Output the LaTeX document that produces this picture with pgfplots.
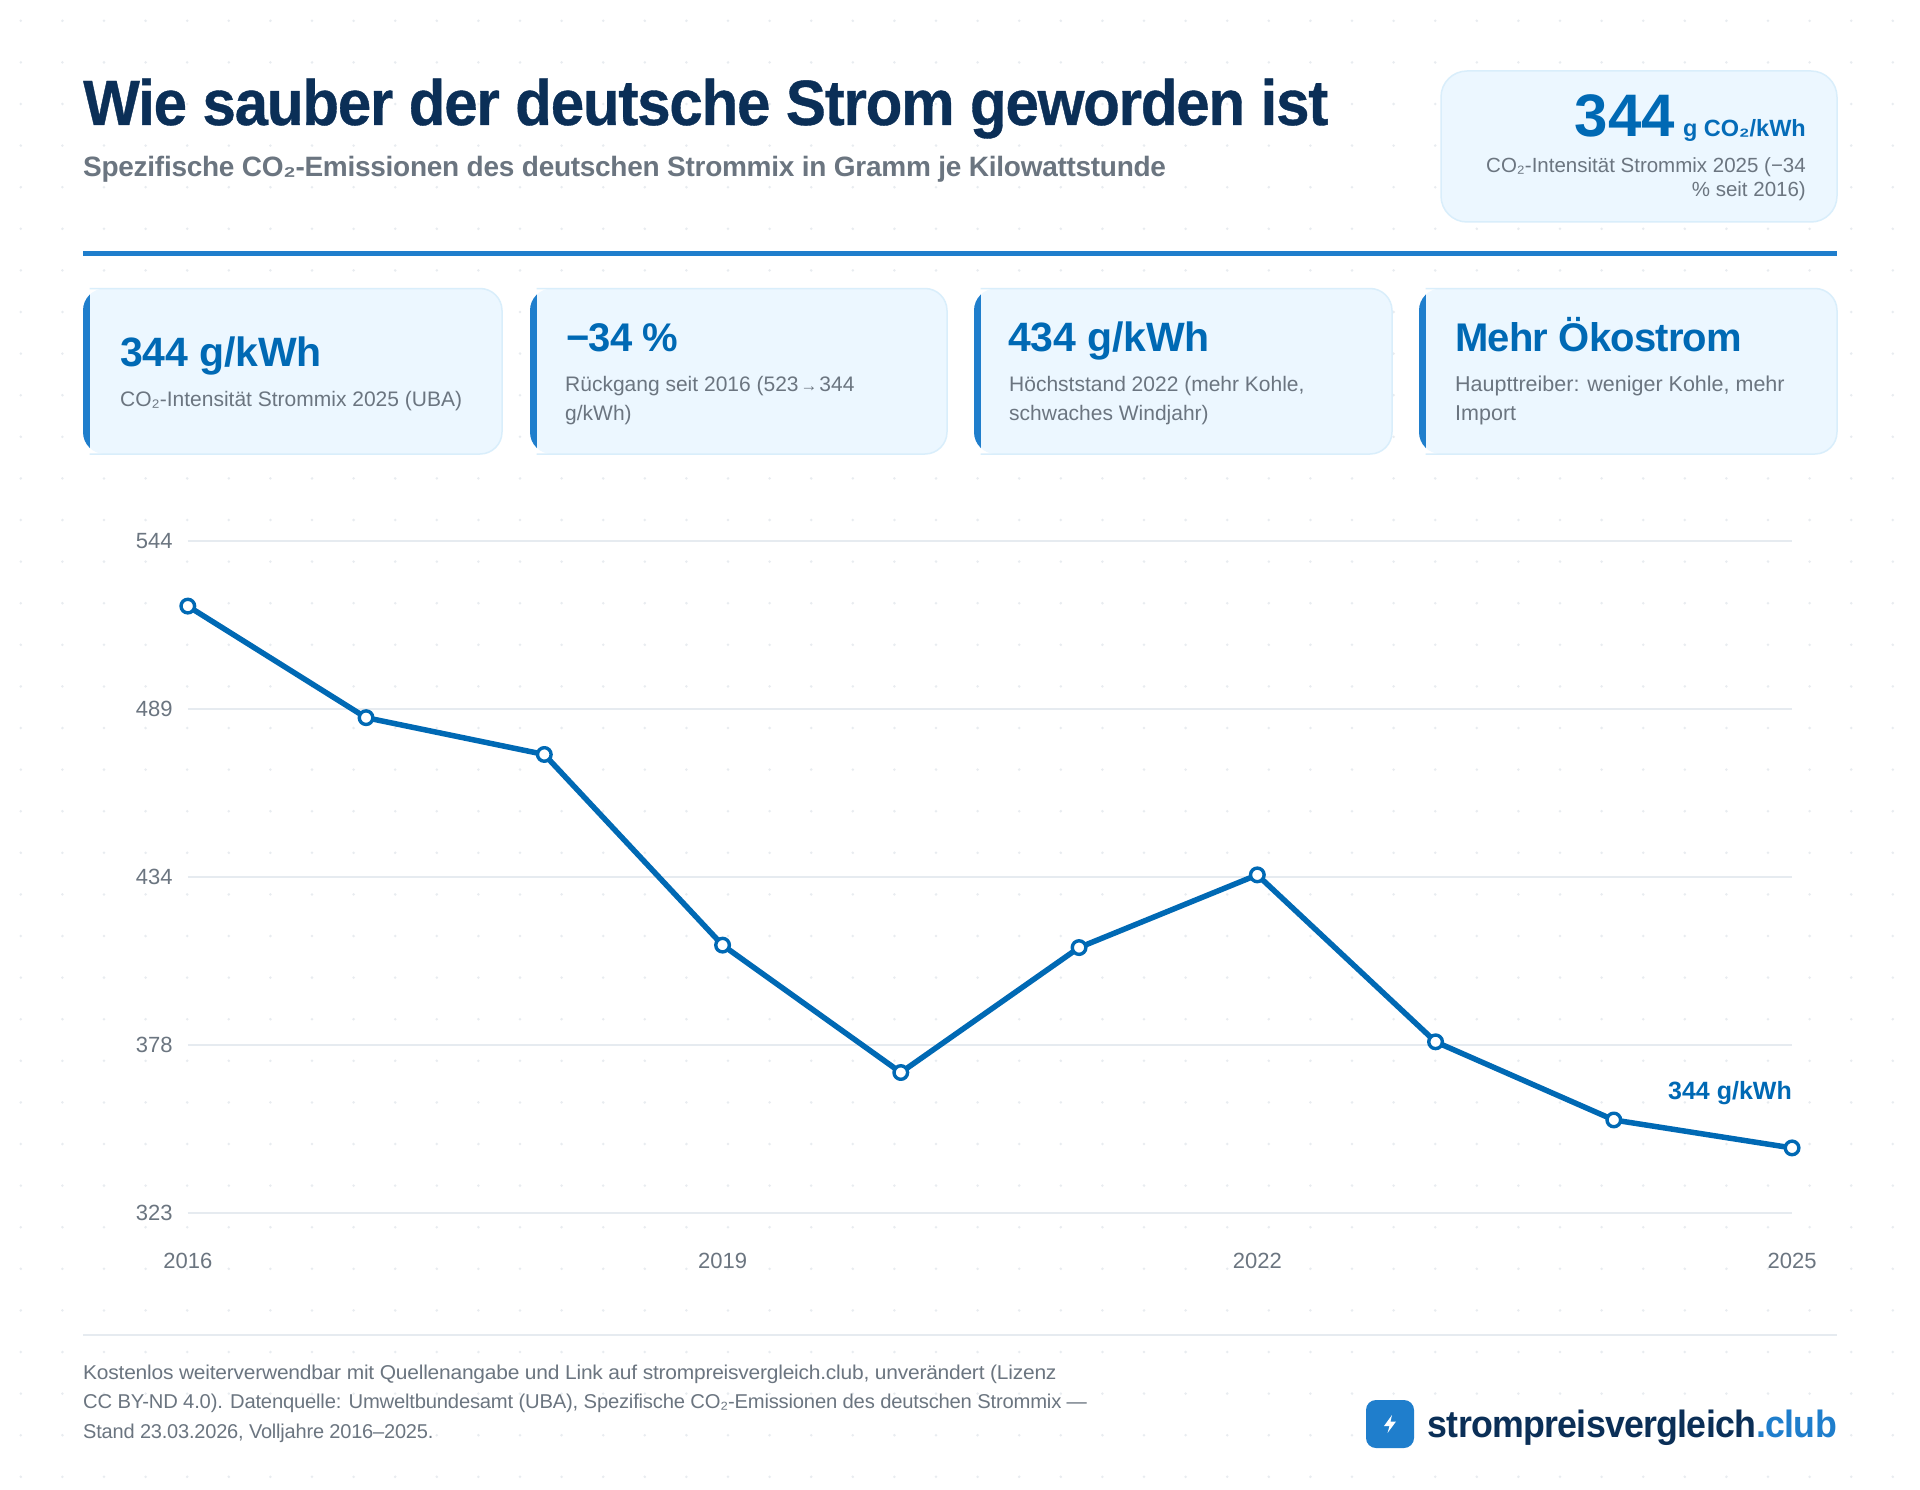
\documentclass[border=0pt]{standalone}
\usepackage{fontspec}
\usepackage{graphicx}
\usepackage{pgfplots}
\pgfplotsset{compat=1.18}
\setmainfont{Liberation Sans}
\newfontfamily\heavy[LetterSpace=-2.0,FakeBold=0.6]{Liberation Sans Bold}
\newfontfamily\tight[LetterSpace=-2.0]{Liberation Sans}
\newfontfamily\midsp[LetterSpace=-0.5]{Liberation Sans}
\newfontfamily\tightb[LetterSpace=-1.0]{Liberation Sans}
\definecolor{navy}{HTML}{0B2F57}
\definecolor{line}{HTML}{0069B4}
\definecolor{accent}{HTML}{1F7ECC}
\definecolor{cardfill}{HTML}{ECF7FF}
\definecolor{cardedge}{HTML}{D9EEFB}
\definecolor{greytxt}{HTML}{6B7580}
\definecolor{gridc}{HTML}{E6EBF0}
\definecolor{dotc}{HTML}{E8ECF0}
\newcommand{\fs}[1]{\fontsize{#1}{#1}\selectfont}
\newcommand{\card}[4]{%
  \begin{scope}
    \clip[rounded corners=22] (#1,#3) rectangle (#2,#4);
    \fill[cardfill] (#1,#3) rectangle (#2,#4);
    \fill[accent] (#1,#3) rectangle ({#1+6.5},#4);
  \end{scope}
  \draw[cardedge,line width=1.5pt,rounded corners=22] ({#1+6.5},#3) -- (#2,#3) -- (#2,#4) -- ({#1+6.5},#4);
}
\begin{document}
\begin{tikzpicture}[x=1pt,y=-1pt]
\useasboundingbox (0,0) rectangle (1920,1490);
\fill[white] (0,0) rectangle (1920,1490);
\fill[dotc] \foreach \i in {0,...,45}{\foreach \j in {0,...,35}{ ({20.8+41.6*\i},{20.8+41.6*\j}) circle (1.4)}};
% header
\node[anchor=base west,inner sep=0,text=navy,font=\heavy\fs{64}] at (83,125) {\scalebox{.938}[1]{Wie sauber der deutsche Strom geworden ist}};
\node[anchor=base west,inner sep=0,text=greytxt,font=\tightb\bfseries\fs{28}] at (83,177) {Spezifische CO₂-Emissionen des deutschen Strommix in Gramm je Kilowattstunde};
\fill[accent] (83,251) rectangle (1837,256);
% top card
\draw[cardedge,fill=cardfill,line width=1.5pt,rounded corners=26] (1441,71) rectangle (1837,222);
\node[anchor=base east,inner sep=0,text=line!85!accent,font=\bfseries\fs{23.5}] at (1806,137) {g CO₂/kWh};
\node[anchor=base east,inner sep=0,text=line,font=\bfseries\fs{60}] at (1675,137) {344};
\node[anchor=base east,inner sep=0,text=greytxt,font=\fs{20.5}] at (1806,172.7) {CO₂-Intensität Strommix 2025 (−34};
\node[anchor=base east,inner sep=0,text=greytxt,font=\fs{20.5}] at (1806,196.7) {\% seit 2016)};
% cards
\card{83}{502}{288.5}{454}
\card{530}{947}{288.5}{454}
\card{974}{1392}{288.5}{454}
\card{1419}{1837}{288.5}{454}
\node[anchor=base west,inner sep=0,text=line,font=\midsp\bfseries\fs{41}] at (120,366.7) {344 g/kWh};
\node[anchor=base west,inner sep=0,text=greytxt,font=\fs{21}] at (120,406.7) {CO₂-Intensität Strommix 2025 (UBA)};
\node[anchor=base west,inner sep=0,text=line,font=\tight\bfseries\fs{40}] at (566,351.7) {−34 \%};
\node[anchor=base west,inner sep=0,text=greytxt,font=\fs{21}] at (565,391.7) {Rückgang seit 2016 (523\hspace{2pt}\scalebox{.8}{→}\hspace{2pt}344};
\node[anchor=base west,inner sep=0,text=greytxt,font=\fs{21}] at (565,420.7) {g/kWh)};
\node[anchor=base west,inner sep=0,text=line,font=\midsp\bfseries\fs{41}] at (1008,351.7) {434 g/kWh};
\node[anchor=base west,inner sep=0,text=greytxt,font=\fs{21}] at (1009,391.7) {Höchststand 2022 (mehr Kohle,};
\node[anchor=base west,inner sep=0,text=greytxt,font=\fs{21}] at (1009,420.7) {schwaches Windjahr)};
\node[anchor=base west,inner sep=0,text=line,font=\tight\bfseries\fs{40}] at (1455,351.7) {Mehr Ökostrom};
\node[anchor=base west,inner sep=0,text=greytxt,font=\fs{21.5}] at (1455,391.7) {Haupttreiber: weniger Kohle, mehr};
\node[anchor=base west,inner sep=0,text=greytxt,font=\fs{21.5}] at (1455,420.7) {Import};
% chart
\begin{axis}[
  at={(187.8pt,-1212.7pt)},anchor=south west,
  scale only axis,width=1604.4pt,height=672pt,
  xmin=2016,xmax=2025,ymin=323,ymax=544,
  clip=false,
  axis line style={draw=none},
  major tick length=0pt,
  xtick={2016,2019,2022,2025},
  xticklabels={2016,2019,2022,2025},
  ytick={323,378.25,433.5,488.75,544},
  yticklabels={323,378,434,489,544},
  ymajorgrids,
  grid style={draw=gridc,line width=2pt},
  tick label style={font=\fs{22},text=greytxt,inner sep=0pt},
  xticklabel style={anchor=base,yshift=-55.3pt},
  yticklabel style={anchor=east,xshift=-15pt},
]
\addplot[line,line width=5.5pt,line join=round,mark=*,mark size=6.8pt,
  mark options={draw=line,fill=white,line width=3.4pt}]
  coordinates {(2016,522.5)(2017,485.8)(2018,473.7)(2019,411)(2020,369.1)(2021,410.2)(2022,434.1)(2023,379.2)(2024,353.5)(2025,344.3)};
\end{axis}
\node[anchor=base east,inner sep=0,text=line,font=\bfseries\fs{25}] at (1792,1099) {344 g/kWh};
% footer
\fill[gridc] (83,1334) rectangle (1837,1336);
\node[anchor=base west,inner sep=0,text=greytxt,font=\tightb\fs{20}] at (83,1379) {\scalebox{1.047}[1]{Kostenlos weiterverwendbar mit Quellenangabe und Link auf strompreisvergleich.club, unverändert (Lizenz}};
\node[anchor=base west,inner sep=0,text=greytxt,font=\tightb\fs{20}] at (83,1408) {\scalebox{1.011}[1]{CC BY-ND 4.0). Datenquelle: Umweltbundesamt (UBA), Spezifische CO₂-Emissionen des deutschen Strommix —}};
\node[anchor=base west,inner sep=0,text=greytxt,font=\tightb\fs{20}] at (83,1438) {Stand 23.03.2026, Volljahre 2016–2025.};
\fill[accent,rounded corners=10] (1366,1400) rectangle (1414,1448);
\fill[white] (1392,1415) -- (1384,1426) -- (1389.5,1426) -- (1387.5,1433) -- (1396,1421.5) -- (1390.5,1421.5) -- cycle;
\node[anchor=base east,inner sep=0,font=\tight\bfseries\fs{38}] at (1837,1437) {\scalebox{.94}[1]{\textcolor{navy}{strompreisvergleich}\textcolor{accent}{.club}}};
\end{tikzpicture}
\end{document}
